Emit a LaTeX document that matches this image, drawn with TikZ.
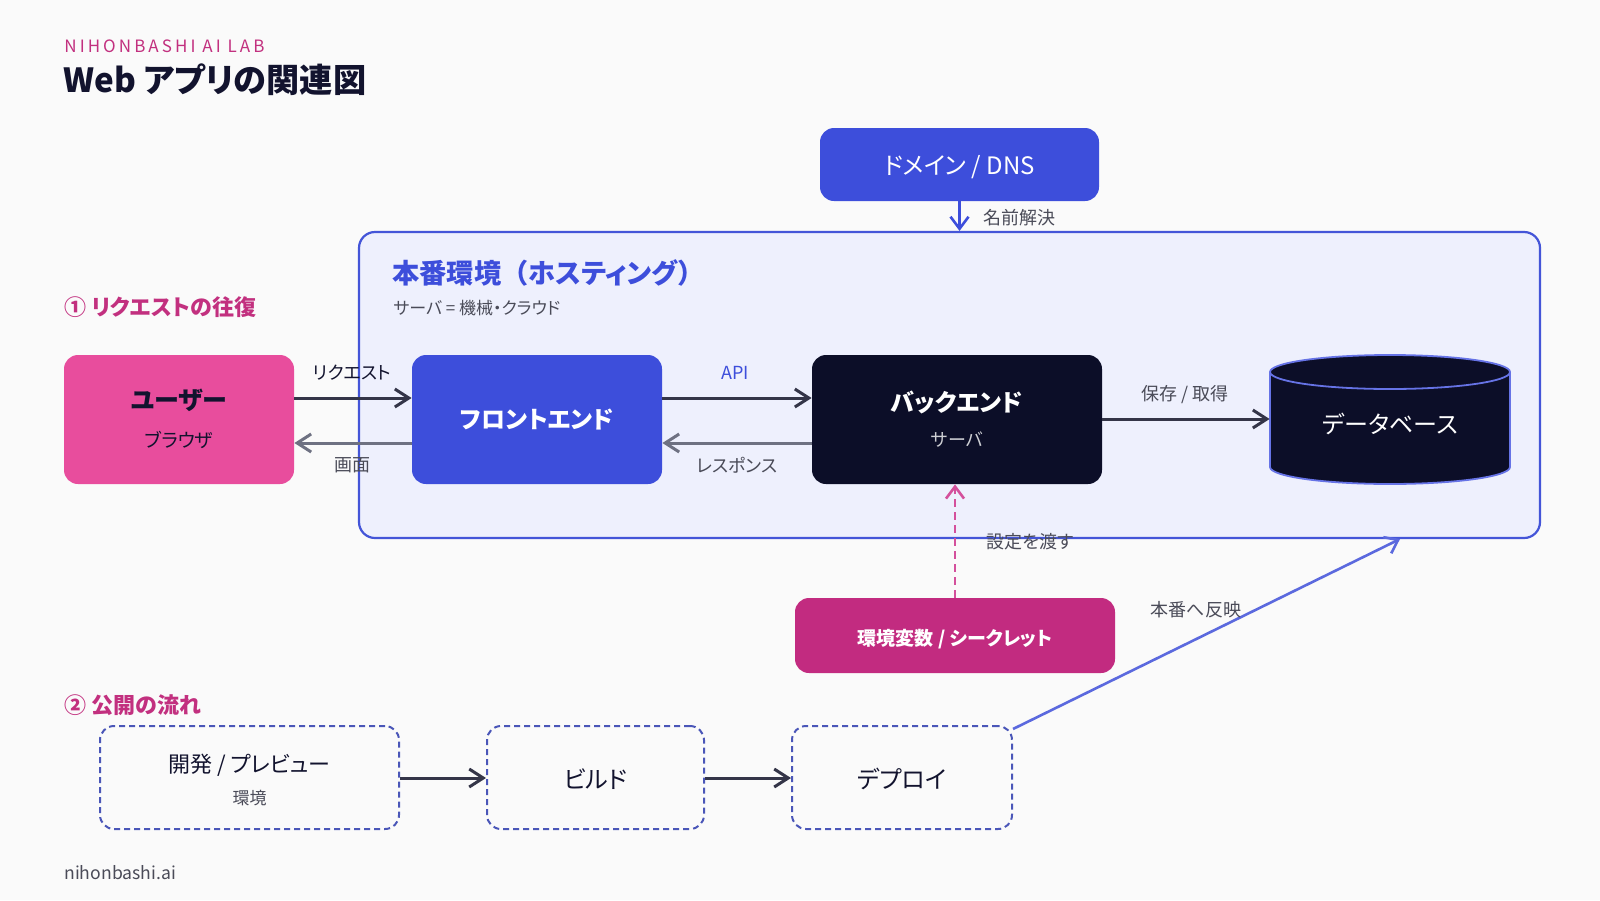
\documentclass[tikz,border=0pt]{standalone}
\usepackage{fontspec}
\setmainfont{Noto Sans CJK JP}[RawFeature=+palt]
\usetikzlibrary{arrows.meta,calc}
\definecolor{bgc}{HTML}{FAFAFA}
\definecolor{bluec}{HTML}{3D4EDB}
\definecolor{navyc}{HTML}{0C0E28}
\definecolor{pinkc}{HTML}{E84D9D}
\definecolor{magc}{HTML}{C22B80}
\definecolor{secc}{HTML}{C2307F}
\definecolor{hostfill}{HTML}{EEF0FD}
\definecolor{hostline}{HTML}{4455D8}
\definecolor{arrdark}{HTML}{343548}
\definecolor{arrgray}{HTML}{6E7182}
\definecolor{labgray}{HTML}{4A4B58}
\definecolor{dashc}{HTML}{4A56B8}
\definecolor{deployc}{HTML}{5B69DE}
\definecolor{dbline}{HTML}{6673E6}
\definecolor{dashpink}{HTML}{D4509C}
\definecolor{textdark}{HTML}{12132E}
\newcommand{\fsz}[1]{\fontsize{#1}{#1}\selectfont}
\newcommand{\fullw}[1]{{\addfontfeatures{RawFeature=-palt}#1}}
\tikzset{
  solidbox/.style={rounded corners=7pt, inner sep=0pt},
  dashbox/.style={rounded corners=7pt, inner sep=0pt, draw=dashc, line width=1pt, dash pattern=on 3pt off 2pt},
  arr/.style={-{Straight Barb[length=7pt,width=9pt]}, line width=1.5pt, draw=arrdark},
  arrback/.style={-{Straight Barb[length=7pt,width=9pt]}, line width=1.5pt, draw=arrgray},
  lab/.style={font=\fsz{9}, text=labgray, inner sep=0pt},
  txt/.style={inner sep=0pt},
}
\begin{document}
\begin{tikzpicture}[x=0.5pt,y=-0.5pt]
\fill[bgc] (0,0) rectangle (1600,900);
\useasboundingbox (0,0) rectangle (1600,900);

% header
\node[anchor=west, txt, text=secc, font=\fsz{8.5}\addfontfeatures{LetterSpace=18}] (brand) at (64,46) {NIHONBASHI AI LAB};
\node[anchor=west, txt, text=textdark, font=\fsz{16.6}\bfseries] (title) at (63,80) {Web アプリの関連図};

% host box
\node[draw=hostline, fill=hostfill, line width=1.1pt, rounded corners=8pt, minimum width=590.5pt, minimum height=153pt, inner sep=0pt] (host) at (949.5,385) {};
\node[anchor=west, txt, text=bluec, font=\fsz{13.6}\bfseries] (hosttitle) at (392,273) {本番環境\fullw{（}ホスティング\fullw{）}};
\node[anchor=west, txt, text=labgray, font=\fsz{8.5}] (hostsub) at (393,308) {サーバ = 機械・クラウド};

% domain
\node[solidbox, fill=bluec, minimum width=139.5pt, minimum height=36.5pt] (dns) at (959.5,164.5) {};
\node[txt, text=white, font=\fsz{12}] (dnst) at (959.5,167) {ドメイン / DNS};
\draw[-{Straight Barb[length=6pt,width=9pt]}, line width=1.3pt, draw=bluec] (dns.south) -- (dns.south |- host.north);
\node[lab, anchor=west] (dnslab) at (983,218) {名前解決};

% section 1
\node[anchor=west, txt, text=secc, font=\fsz{11}\bfseries] (sec1) at (64,307) {① リクエストの往復};

% user
\node[solidbox, fill=pinkc, minimum width=115pt, minimum height=64.5pt] (user) at (179,419.5) {};
\node[txt, text=textdark, font=\fsz{12.5}\bfseries] (usert) at (179,400) {ユーザー};
\node[txt, text=textdark, font=\fsz{9.5}] (users) at (179,440) {ブラウザ};

% frontend
\node[solidbox, fill=bluec, minimum width=125pt, minimum height=64.5pt] (front) at (537,419.5) {};
\node[txt, text=white, font=\fsz{12}\bfseries] (frontt) at (537,420) {フロントエンド};

% backend
\node[solidbox, fill=navyc, minimum width=145pt, minimum height=64.5pt] (back) at (957,419.5) {};
\node[txt, text=white, font=\fsz{12}\bfseries] (backt) at (957,402) {バックエンド};
\node[txt, text=white!80!navyc, font=\fsz{9}] (backs) at (957,440) {サーバ};

% database
\node[minimum width=120pt, minimum height=64.5pt, inner sep=0pt] (db) at (1390,419.5) {};
\fill[navyc] (1270,372) rectangle (1510,467);
\fill[navyc] (1390,467) ellipse[x radius=120, y radius=17];
\begin{scope}
  \clip (1260,467) rectangle (1520,495);
  \draw[dbline, line width=0.9pt] (1390,467) ellipse[x radius=120, y radius=17];
\end{scope}
\draw[dbline, line width=0.9pt] (1270,372) -- (1270,467) (1510,372) -- (1510,467);
\filldraw[fill=navyc, draw=dbline, line width=0.9pt] (1390,372) ellipse[x radius=120, y radius=17];
\node[txt, text=white, font=\fsz{12}] (dbt) at (1390,424) {データベース};

% request/response arrows
\draw[arr] (user.east |- 0,398) -- (front.west |- 0,398);
\node[txt, text=textdark, font=\fsz{9}] (reqlab) at (352,373) {リクエスト};
\draw[arrback] (front.west |- 0,443) -- (user.east |- 0,443);
\node[lab] (scrlab) at (352,465) {画面};
\draw[arr] (front.east |- 0,398) -- (back.west |- 0,398);
\node[txt, text=bluec, font=\fsz{9}] (apilab) at (735,373) {API};
\draw[arrback] (back.west |- 0,443) -- (front.east |- 0,443);
\node[lab] (reslab) at (737,465) {レスポンス};
\draw[arr] (back.east |- 0,419) -- (db.west |- 0,419);
\node[lab] (dblab) at (1185,395) {保存 / 取得};

% env
\node[solidbox, fill=magc, minimum width=160pt, minimum height=37.5pt] (env) at (955,635.5) {};
\node[txt, text=white, font=\fsz{9.5}\bfseries] (envt) at (955,639) {環境変数 / シークレット};
\draw[-{Straight Barb[length=6pt,width=9pt]}, line width=1.3pt, draw=dashpink, dash pattern=on 4pt off 2.5pt] (env.north) -- (back.south -| env.north);
\node[lab] (envlab) at (1030,542) {設定を渡す};

% section 2
\node[anchor=west, txt, text=secc, font=\fsz{11}\bfseries] (sec2) at (64,705) {② 公開の流れ};

\node[dashbox, minimum width=149.5pt, minimum height=51.5pt] (dev) at (249.5,777.5) {};
\node[txt, text=textdark, font=\fsz{11}] (devt) at (249.5,765) {開発 / プレビュー};
\node[txt, text=labgray, font=\fsz{8.5}] (devs) at (249.5,798) {環境};
\node[dashbox, minimum width=108.5pt, minimum height=51.5pt] (build) at (595.5,777.5) {};
\node[txt, text=textdark, font=\fsz{12}] (buildt) at (595.5,779) {ビルド};
\node[dashbox, minimum width=110pt, minimum height=51.5pt] (deploy) at (902,777.5) {};
\node[txt, text=textdark, font=\fsz{12}] (deployt) at (902,779) {デプロイ};
\draw[arr] (dev.east |- 0,778) -- (build.west |- 0,778);
\draw[arr] (build.east |- 0,778) -- (deploy.west |- 0,778);

\coordinate (deploystart) at ($(deploy.north east)+(0,4)$);
\coordinate (deployend) at (1400,539);
\draw[-{Straight Barb[length=6pt,width=9pt]}, line width=1.3pt, draw=deployc] (deploystart) -- (deployend);
\node[lab] (deplab) at (1196,610) {本番へ反映};

% footer
\node[anchor=west, txt, text=labgray, font=\fsz{8.8}] (footer) at (64,873) {nihonbashi.ai};
\end{tikzpicture}
\end{document}
